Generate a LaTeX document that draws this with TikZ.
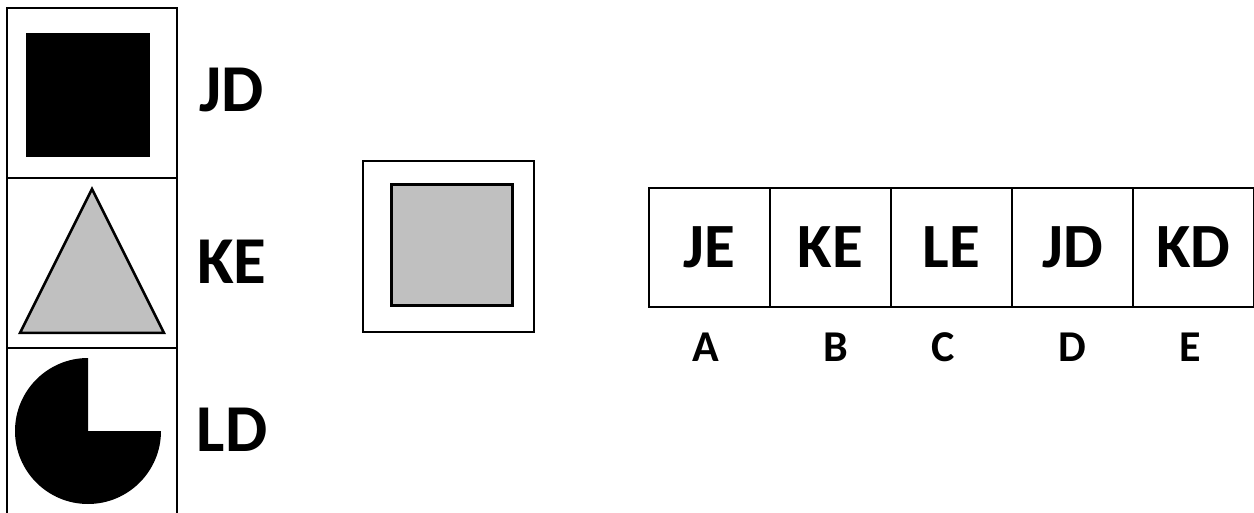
\documentclass[tikz,border=0pt]{standalone}
\usepackage{fontspec}
\setmainfont{Carlito}
\begin{document}
\begin{tikzpicture}[x=1pt,y=-1pt,
  ln/.style={line width=2pt,draw=black},
  big/.style={font=\fontsize{67}{72}\selectfont\bfseries,inner sep=0pt},
  small/.style={font=\fontsize{44}{50}\selectfont\bfseries,inner sep=0pt},
  cell/.style={draw=black,line width=2pt,minimum width=121pt,minimum height=119pt,inner sep=0pt,anchor=north west,font=\fontsize{63}{70}\selectfont\bfseries}]
\useasboundingbox (0,0) rectangle (1254,513);
% left column
\draw[ln] (7,513) -- (7,8) -- (177,8) -- (177,513);
\draw[ln] (7,178) -- (177,178);
\draw[ln] (7,348) -- (177,348);
\fill[black] (26,33) rectangle (150,157);
\draw[line width=2.5pt,fill={rgb,255:red,192;green,192;blue,192},line join=miter] (92,189) -- (164,333) -- (20,333) -- cycle;
\fill[black] (88,431) -- (161,431) arc[start angle=0,end angle=270,radius=73] -- cycle;
\node[big] (jd) at (232,90) {JD};
\node[big] (ke) at (232,262) {KE};
\node[big] (ld) at (232,430) {LD};
% middle
\draw[ln] (363,161) rectangle (534,332);
\draw[line width=3pt,fill={rgb,255:red,192;green,192;blue,192}] (391,185) rectangle (512,306);
% row
\node[cell] (c1) at (648,187) {JE};
\node[cell] (c2) at (769,187) {KE};
\node[cell] (c3) at (890,187) {LE};
\node[cell] (c4) at (1011,187) {JD};
\node[cell] (c5) at (1132,187) {KD};
\node[small] (la) at (706,347) {A};
\node[small] (lb) at (836,347) {B};
\node[small] (lc) at (943,347) {C};
\node[small] (ld2) at (1072,347) {D};
\node[small] (le) at (1190,347) {E};
\end{tikzpicture}
\end{document}
